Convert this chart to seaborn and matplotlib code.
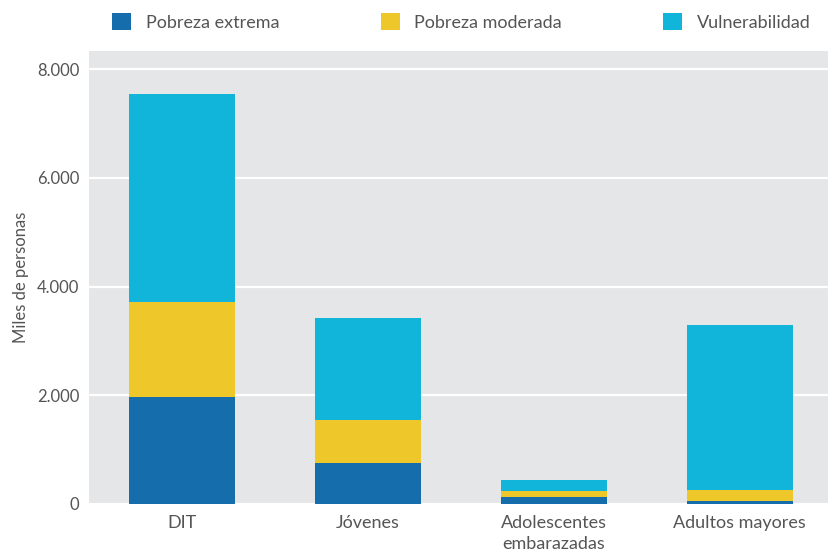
import pandas as pd
import matplotlib.pyplot as plt
import seaborn as sns
from matplotlib.patches import Patch
from matplotlib.ticker import FuncFormatter

# Data (miles de personas)
grupos = ['DIT', 'Jóvenes', 'Adolescentes\nembarazadas', 'Adultos mayores']
pobreza_extrema = [1970, 755, 130, 50]
pobreza_moderada = [1750, 790, 110, 200]
vulnerabilidad = [3830, 1875, 200, 3040]

series = ['Pobreza extrema', 'Pobreza moderada', 'Vulnerabilidad']
colores = ['#156EAB', '#EEC82A', '#12B5DA']
gris = '#555555'

sns.set_theme(style='darkgrid')
plt.rcParams['font.family'] = ['Lato', 'DejaVu Sans']

df = pd.DataFrame({'grupo': grupos,
                   'Pobreza extrema': pobreza_extrema,
                   'Pobreza moderada': pobreza_moderada,
                   'Vulnerabilidad': vulnerabilidad})
# cumulative tops for stacking
df['top1'] = df['Pobreza extrema']
df['top2'] = df['top1'] + df['Pobreza moderada']
df['top3'] = df['top2'] + df['Vulnerabilidad']

fig = plt.figure(figsize=(8.29, 5.57), dpi=100)
ax = fig.add_axes([89 / 829, 1 - 504 / 557, 740 / 829, 453 / 557])
ax.set_facecolor('#E5E6E8')

# draw tallest first so lower segments sit on top
for col, c in zip(['top3', 'top2', 'top1'], colores[::-1]):
    sns.barplot(data=df, x='grupo', y=col, color=c, width=0.57,
                saturation=1, ax=ax, zorder=3, edgecolor='none', linewidth=0)

ax.set_ylim(0, 8335)
ax.set_xlim(-0.5, 3.48)
ax.set_yticks([0, 2000, 4000, 6000, 8000])
ax.yaxis.set_major_formatter(FuncFormatter(lambda v, p: f'{int(v):,}'.replace(',', '.')))
ax.grid(axis='y', color='white', linewidth=1.6, zorder=0)
ax.grid(axis='x', visible=False)
for s in ax.spines.values():
    s.set_visible(False)
ax.tick_params(axis='both', length=0, colors=gris)
ax.tick_params(axis='y', pad=7, labelsize=12)
ax.tick_params(axis='x', pad=8, labelsize=13)
ax.set_xlabel('')
ax.set_ylabel('Miles de personas', color=gris, fontsize=12, labelpad=6)
for lbl in ax.get_xticklabels():
    lbl.set_linespacing(1.35)

handles = [Patch(facecolor=c, edgecolor='none') for c in colores]
fig.legend(handles, series, loc='center left',
           bbox_to_anchor=(112 / 829, 1 - 22 / 557),
           ncol=3, frameon=False, fontsize=13, labelcolor=gris,
           borderpad=0, borderaxespad=0,
           handlelength=1.05, handleheight=1.05, handletextpad=0.83,
           columnspacing=5.6)

fig.savefig('out.png', dpi=100, facecolor='white')
